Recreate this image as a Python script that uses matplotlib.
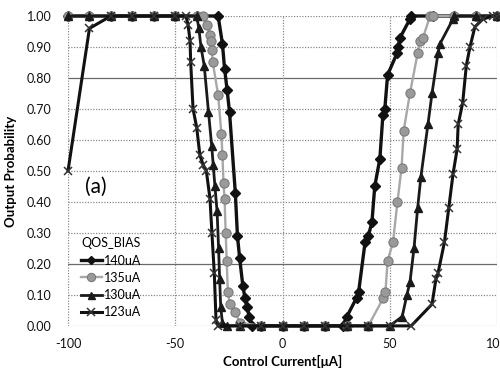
import matplotlib
matplotlib.use("Agg")
import matplotlib.pyplot as plt

plt.rcParams['font.family'] = ['Lato', 'DejaVu Sans']

# ---- data ----
x_140 = [-100, -90, -80, -70, -60, -50, -40, -30, -28, -27, -25.8, -24.7, -22, -21, -20,
         -18.5, -17.5, -16.5, -15.5, -14, -10, 0, 10, 20, 28, 30, 34.5, 35.5, 38.5, 40,
         41.7, 43, 45.4, 46.8, 47.7, 49, 53.4, 53.9, 54.8, 59.4, 60, 70, 80, 90, 100]
y_140 = [1.00, 1.00, 1.00, 1.00, 1.00, 1.00, 1.00, 1.00, 0.91, 0.83, 0.76, 0.69, 0.43, 0.29, 0.22,
         0.13, 0.09, 0.06, 0.03, 0.00, 0.00, 0.00, 0.00, 0.00, 0.00, 0.03, 0.09, 0.11, 0.27, 0.29,
         0.335, 0.45, 0.54, 0.68, 0.70, 0.81, 0.88, 0.90, 0.93, 0.99, 1.00, 1.00, 1.00, 1.00, 1.00]

x_135 = [-100, -90, -80, -70, -60, -50, -40, -37, -35, -34, -33.5, -33, -32.5, -30, -28.5,
         -28, -27.5, -27, -26.5, -26, -25.5, -24.5, -22, -20, -10, 0, 10, 20, 30, 40,
         47, 48, 49, 51.5, 53.6, 55.5, 56.5, 59.4, 63, 64, 65.5, 68.8, 70, 80, 90, 100]
y_135 = [1.00, 1.00, 1.00, 1.00, 1.00, 1.00, 1.00, 1.00, 0.97, 0.94, 0.92, 0.89, 0.85, 0.745, 0.62,
         0.55, 0.46, 0.41, 0.30, 0.21, 0.11, 0.07, 0.045, 0.01, 0.00, 0.00, 0.00, 0.00, 0.00, 0.00,
         0.09, 0.11, 0.21, 0.27, 0.40, 0.51, 0.63, 0.75, 0.88, 0.92, 0.93, 1.00, 1.00, 1.00, 1.00, 1.00]

x_130 = [-100, -90, -80, -70, -60, -50, -40, -39, -38, -36.5, -34.5, -33, -32.3, -31.5,
         -30.5, -29.8, -29.3, -28.8, -28, -26, -20, -10, 0, 10, 20, 30, 40, 50, 55.8, 58,
         59.4, 61.3, 63, 64.5, 67.8, 69.7, 72.5, 73.4, 79.5, 80, 90, 100]
y_130 = [1.00, 1.00, 1.00, 1.00, 1.00, 1.00, 1.00, 0.96, 0.90, 0.84, 0.69, 0.58, 0.52, 0.45,
         0.37, 0.25, 0.15, 0.06, 0.01, 0.00, 0.00, 0.00, 0.00, 0.00, 0.00, 0.00, 0.00, 0.00, 0.03, 0.10,
         0.14, 0.25, 0.38, 0.48, 0.65, 0.75, 0.88, 0.91, 0.99, 1.00, 1.00, 1.00]

x_123 = [-100, -90, -80, -70, -60, -50, -45, -44, -43.1, -42.8, -41.7, -40, -38.5, -37,
         -35.5, -33.8, -32.9, -31.8, -31, -30, -20, -10, 0, 10, 20, 30, 40, 50, 60, 69.7,
         71.5, 72.5, 75.5, 77.5, 79.5, 81.4, 81.9, 84, 85.7, 87.4, 89.7, 93.4, 98, 100]
y_123 = [0.50, 0.96, 1.00, 1.00, 1.00, 1.00, 1.00, 0.97, 0.92, 0.85, 0.70, 0.64, 0.55, 0.52,
         0.50, 0.41, 0.30, 0.17, 0.02, 0.00, 0.00, 0.00, 0.00, 0.00, 0.00, 0.00, 0.00, 0.00, 0.00, 0.07,
         0.15, 0.17, 0.27, 0.38, 0.49, 0.57, 0.65, 0.72, 0.84, 0.90, 0.965, 0.99, 1.00, 1.00]

labels = ["140uA", "135uA", "130uA", "123uA"]
legend_title = "QOS_BIAS"
x_ticks = [-100, -50, 0, 50, 100]
y_ticks = [0.0, 0.1, 0.2, 0.3, 0.4, 0.5, 0.6, 0.7, 0.8, 0.9, 1.0]

# ---- figure ----
fig = plt.figure(figsize=(5.0, 3.72), dpi=100)
ax = fig.add_axes([0.136, 0.124, 0.858, 0.833])

for yv in y_ticks:
    if abs(yv - 0.2) < 1e-9 or abs(yv - 0.8) < 1e-9:
        ax.axhline(yv, color='#6a6a6a', lw=0.9, ls='-', zorder=0)
    else:
        ax.axhline(yv, color='#8a8a8a', lw=0.9, ls=(0, (1, 1.2)), zorder=0)
for xv in x_ticks:
    ax.axvline(xv, color='#8a8a8a', lw=0.9, ls=(0, (1, 1.2)), zorder=0)

ax.plot(x_140, y_140, color='#111111', lw=2.4, marker='D', ms=5.0,
        mfc='#111111', mec='#111111', label=labels[0], zorder=3, clip_on=False)
ax.plot(x_135, y_135, color='#a8a8a8', lw=1.7, marker='o', ms=6.6,
        mfc='#9a9a9a', mec='#7a7a7a', mew=0.8, label=labels[1], zorder=4, clip_on=False)
ax.plot(x_130, y_130, color='#1a1a1a', lw=2.0, marker='^', ms=5.6,
        mfc='#1a1a1a', mec='#1a1a1a', label=labels[2], zorder=5, clip_on=False)
ax.plot(x_123, y_123, color='#111111', lw=2.2, marker='x', ms=6.0,
        mec='#333333', mew=1.1, label=labels[3], zorder=6, clip_on=False)

ax.set_xlim(-100, 100)
ax.set_ylim(0, 1.0)
ax.set_xticks(x_ticks)
ax.set_yticks(y_ticks)
ax.set_yticklabels([f"{v:.2f}" for v in y_ticks])
ax.set_xticklabels([str(v) for v in x_ticks])
ax.tick_params(axis='both', length=0, labelsize=9, colors='#111111')
ax.tick_params(axis='y', pad=12)
ax.tick_params(axis='x', pad=9)
for s in ax.spines.values():
    s.set_visible(False)

ax.set_xlabel("Control Current[\u03bcA]", fontsize=9.5, fontweight='bold', labelpad=3)
ax.set_ylabel("Output Probability", fontsize=9.5, fontweight='bold', labelpad=7)

ax.text(-87, 0.45, "(a)", fontsize=15, ha='center', va='center')

leg = ax.legend(loc='lower left', bbox_to_anchor=(0.012, 0.0), frameon=False,
                title=legend_title, fontsize=9, title_fontsize=9,
                handlelength=1.7, handletextpad=0.15, labelspacing=0.42,
                borderpad=0.1, markerscale=0.9)
leg._legend_box.align = "center"

fig.savefig("out.png", dpi=100)
